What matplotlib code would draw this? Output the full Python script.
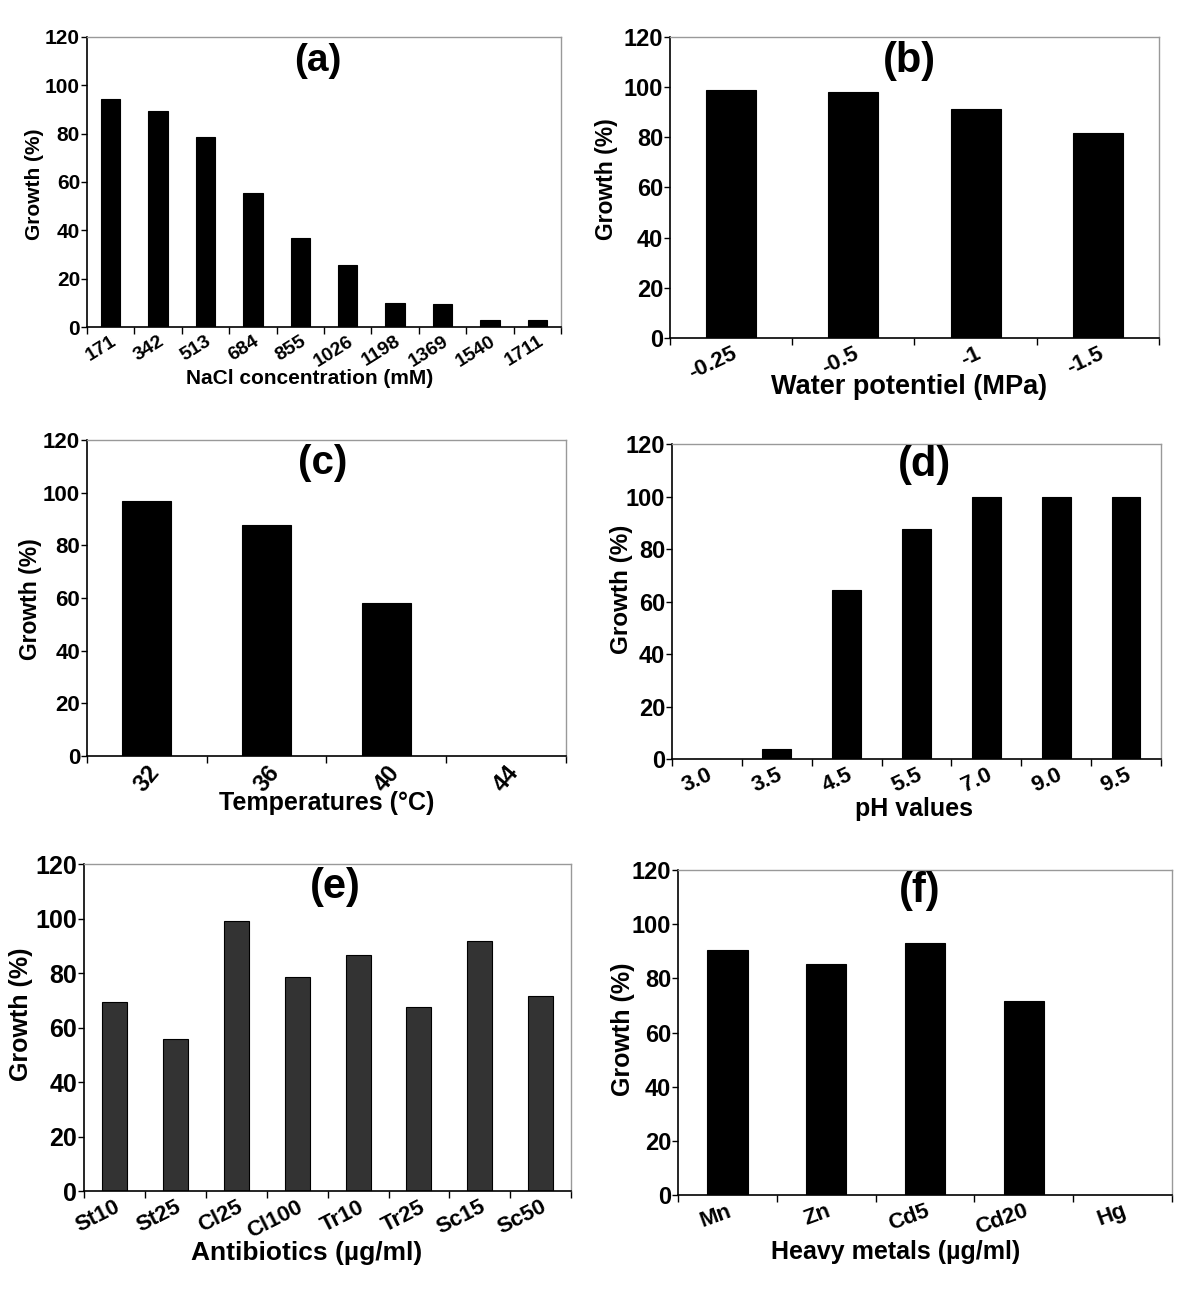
import matplotlib
matplotlib.use("Agg")
import matplotlib.pyplot as plt
import numpy as np

plt.rcParams['font.family'] = ['Liberation Sans', 'DejaVu Sans']
plt.rcParams['font.weight'] = 'bold'

# ---- data ----
nacl_labels = ["171", "342", "513", "684", "855", "1026", "1198", "1369", "1540", "1711"]
nacl_growth = [94.4, 89.2, 78.4, 55.6, 37.0, 25.8, 9.9, 9.4, 3.0, 3.0]

water_labels = ["-0.25", "-0.5", "-1", "-1.5"]
water_growth = [98.9, 98.1, 91.0, 81.8]

temp_labels = ["32", "36", "40", "44"]
temp_growth = [96.8, 87.8, 57.9, 0.0]

ph_labels = ["3.0", "3.5", "4.5", "5.5", "7.0", "9.0", "9.5"]
ph_growth = [0.0, 3.9, 64.3, 87.5, 100.0, 100.0, 100.0]

anti_labels = ["St10", "St25", "Cl25", "Cl100", "Tr10", "Tr25", "Sc15", "Sc50"]
anti_growth = [69.2, 55.8, 99.2, 78.5, 86.5, 67.4, 91.9, 71.7]

metal_labels = ["Mn", "Zn", "Cd5", "Cd20", "Hg"]
metal_growth = [90.3, 85.4, 93.0, 71.5, 0.0]

fig = plt.figure(figsize=(12, 12.9), dpi=100)
fig.patch.set_facecolor('white')

panels = [
    dict(rect=[0.0725, 0.7465, 0.395, 0.225], labels=nacl_labels, vals=nacl_growth,
         title="(a)", xlabel="NaCl concentration (mM)", color="black", rot=32,
         yfs=15, xfs=14, lfs=15, ylfs=15, tfs=28, tpos=(0.487, 0.917),
         xlab=(0.47, -0.176), ylab=(-0.11, 0.493)),
    dict(rect=[0.5583, 0.738, 0.4075, 0.2336], labels=water_labels, vals=water_growth,
         title="(b)", xlabel="Water potentiel (MPa)", color="black", rot=25,
         yfs=17, xfs=16, lfs=19.5, ylfs=16.5, tfs=30, tpos=(0.49, 0.92),
         xlab=(0.489, -0.163), ylab=(-0.129, 0.528)),
    dict(rect=[0.0725, 0.414, 0.399, 0.245], labels=temp_labels, vals=temp_growth,
         title="(c)", xlabel="Temperatures (°C)", color="black", rot=50,
         yfs=16, xfs=17, lfs=18, ylfs=16.5, tfs=29, tpos=(0.493, 0.927),
         xlab=(0.5, -0.15), ylab=(-0.117, 0.497)),
    dict(rect=[0.560, 0.4116, 0.4075, 0.2442], labels=ph_labels, vals=ph_growth,
         title="(d)", xlabel="pH values", color="black", rot=25,
         yfs=17, xfs=16, lfs=18, ylfs=17.5, tfs=30, tpos=(0.517, 0.933),
         xlab=(0.495, -0.158), ylab=(-0.104, 0.54)),
    dict(rect=[0.070, 0.0767, 0.406, 0.2535], labels=anti_labels, vals=anti_growth,
         title="(e)", xlabel="Antibiotics (µg/ml)", color="#333333", rot=27,
         yfs=18, xfs=16, lfs=19, ylfs=18, tfs=30, tpos=(0.515, 0.93),
         xlab=(0.456, -0.19), ylab=(-0.129, 0.54)),
    dict(rect=[0.565, 0.0736, 0.4117, 0.252], labels=metal_labels, vals=metal_growth,
         title="(f)", xlabel="Heavy metals (µg/ml)", color="black", rot=20,
         yfs=17, xfs=16, lfs=18, ylfs=18, tfs=30, tpos=(0.49, 0.935),
         xlab=(0.44, -0.175), ylab=(-0.112, 0.51)),
]

for p in panels:
    ax = fig.add_axes(p['rect'])
    labels, vals = p['labels'], p['vals']
    n = len(labels)
    x = np.arange(n)
    ax.bar(x, vals, width=0.41, color=p['color'], edgecolor='black', linewidth=0.8)
    ax.set_xlim(-0.5, n - 0.5)
    ax.set_ylim(0, 120)
    ax.set_yticks(np.arange(0, 121, 20))
    ax.tick_params(axis='y', labelsize=p['yfs'], direction='out', length=4, width=1, pad=1)
    for lab in ax.get_yticklabels():
        lab.set_fontweight('bold')
    # x tick marks between categories, labels under bars
    ax.set_xticks(np.arange(-0.5, n, 1.0))
    ax.set_xticklabels([])
    ax.tick_params(axis='x', which='major', direction='out', length=5, width=1)
    ax.set_xticks(x, minor=True)
    ax.set_xticklabels(labels, minor=True, rotation=p['rot'], ha='right', va='top',
                       rotation_mode='anchor', fontsize=p['xfs'], fontweight='bold')
    ax.tick_params(axis='x', which='minor', length=0, pad=4)
    for s in ['left', 'bottom']:
        ax.spines[s].set_color('black')
        ax.spines[s].set_linewidth(1.2)
    for s in ['top', 'right']:
        ax.spines[s].set_color('#999999')
        ax.spines[s].set_linewidth(1.0)
    ax.set_ylabel("Growth (%)", fontsize=p['ylfs'], fontweight='bold')
    ax.yaxis.set_label_coords(*p['ylab'])
    ax.yaxis.label.set_va('center')
    ax.set_xlabel(p['xlabel'], fontsize=p['lfs'], fontweight='bold')
    ax.xaxis.set_label_coords(*p['xlab'])
    ax.xaxis.label.set_va('center')
    ax.text(p['tpos'][0], p['tpos'][1], p['title'], transform=ax.transAxes,
            ha='center', va='center', fontsize=p['tfs'], fontweight='bold')

fig.savefig("out.png", dpi=100, facecolor='white')
